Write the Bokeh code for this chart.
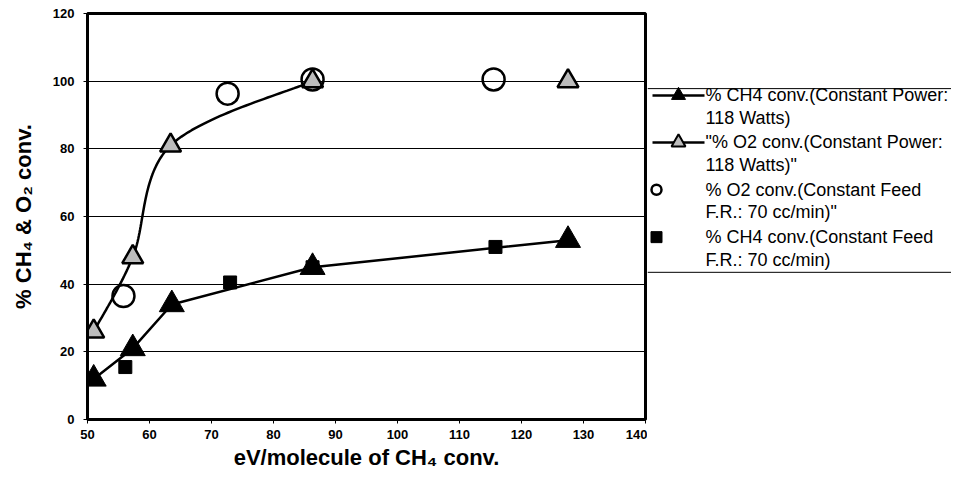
import numpy as np
from bokeh.plotting import figure
from bokeh.layouts import row
from bokeh.models import Range1d
from bokeh.core.properties import value
from bokeh.embed import file_html
from bokeh.resources import INLINE

# ---- data ----
x_ch4_power = [51.0, 57.3, 63.6, 86.3, 127.5]
y_ch4_power = [12.0, 21.0, 34.0, 45.0, 53.0]
x_o2_power = [51.0, 57.3, 63.4, 86.3, 127.5]
y_o2_power = [26.0, 48.0, 81.0, 100.0, 100.0]
x_o2_feed = [55.8, 72.6, 86.3, 115.5]
y_o2_feed = [36.5, 96.3, 100.5, 100.5]
x_ch4_feed = [56.1, 73.0, 86.3, 115.8]
y_ch4_feed = [15.5, 40.5, 45.0, 51.0]
x_ticks = [50, 60, 70, 80, 90, 100, 110, 120, 130, 140]
y_ticks = [0, 20, 40, 60, 80, 100, 120]

legend_lines = [
    ["% CH4 conv.(Constant Power:", "118 Watts)"],
    ["\"% O2 conv.(Constant Power:", "118 Watts)\""],
    ["% O2 conv.(Constant Feed", "F.R.:  70 cc/min)\""],
    ["% CH4 conv.(Constant Feed", "F.R.:  70 cc/min)"],
]

FONT = "Liberation Sans"
H = 472


def smooth(xs, ys, n=40):
    """Excel-like smoothed line (Catmull-Rom Bezier) through the given points."""
    P = np.column_stack([xs, ys])
    out = []
    for i in range(len(P) - 1):
        p0 = P[i - 1] if i > 0 else P[i]
        p1, p2 = P[i], P[i + 1]
        p3 = P[i + 2] if i + 2 < len(P) else P[i + 1]
        c1 = p1 + (p2 - p0) / 6.0
        c2 = p2 - (p3 - p1) / 6.0
        t = np.linspace(0, 1, n)[:, None]
        seg = ((1 - t) ** 3) * p1 + 3 * ((1 - t) ** 2) * t * c1 + 3 * (1 - t) * t ** 2 * c2 + t ** 3 * p2
        out.append(seg if i == 0 else seg[1:])
    arr = np.vstack(out)
    return arr[:, 0], arr[:, 1]


# ---------------- main chart ----------------
y_range = Range1d(0, 120)
p = figure(width=647, height=H, x_range=Range1d(50, 140), y_range=y_range,
           output_backend="svg", toolbar_location=None,
           min_border_left=87, min_border_top=13, min_border_bottom=40, min_border_right=2)
p.outline_line_color = "black"
p.outline_line_width = 3
p.background_fill_color = "white"
p.border_fill_color = "white"

p.xaxis.ticker = x_ticks
p.yaxis.ticker = y_ticks
for ax in (p.xaxis[0], p.yaxis[0]):
    ax.axis_line_color = "black"
    ax.axis_line_width = 3
    ax.major_tick_out = 4
    ax.major_tick_in = 0
    ax.minor_tick_line_color = None
    ax.major_tick_line_color = "black"
    ax.major_label_text_font = FONT
    ax.major_label_text_font_style = "bold"
    ax.major_label_text_font_size = "13px"
    ax.major_label_text_color = "black"
    ax.axis_label_text_font = FONT
    ax.axis_label_text_font_style = "bold"
    ax.axis_label_text_color = "black"

p.xaxis.axis_label = "eV/molecule of CH\u2084 conv."
p.xaxis.axis_label_text_font_size = "22px"
p.xaxis.axis_label_standoff = 3
p.xaxis.major_label_standoff = 6
p.yaxis.axis_label = "% CH\u2084 & O\u2082 conv."
p.yaxis.axis_label_text_font_size = "22px"
p.yaxis.axis_label_standoff = 14
p.yaxis.major_label_standoff = 9

p.xgrid.grid_line_color = None
p.ygrid.grid_line_color = "black"
p.ygrid.grid_line_width = 1

# O2 conversion, constant power: smoothed curve through the first four points
sx, sy = smooth(x_o2_power[:4], y_o2_power[:4])
p.line(sx, sy, line_color="black", line_width=2.5)
p.scatter(x_o2_power, y_o2_power, marker="triangle", size=21,
          fill_color="#bcbcbc", line_color="black", line_width=2.5)

# CH4 conversion, constant power
p.line(x_ch4_power, y_ch4_power, line_color="black", line_width=2.5)
p.scatter(x_ch4_feed, y_ch4_feed, marker="square", size=13,
          fill_color="black", line_color="black")
p.scatter(x_ch4_power, y_ch4_power, marker="triangle", size=25,
          fill_color="black", line_color="black")

# O2 conversion, constant feed
p.scatter(x_o2_feed, y_o2_feed, marker="circle", size=22,
          fill_color=None, line_color="black", line_width=2.5)

# ---------------- legend panel (shares the chart's vertical scale) ----------------
LW = 951 - 647
q = figure(width=LW, height=H, x_range=Range1d(0, LW), y_range=y_range,
           output_backend="svg", toolbar_location=None,
           min_border_left=0, min_border_right=0,
           min_border_top=13, min_border_bottom=40)
q.axis.visible = False
q.grid.visible = False
q.outline_line_color = None
q.background_fill_color = "white"
q.border_fill_color = "white"

# legend box edges (in the chart's y units)
box_top, box_bottom = 97.8, 43.5
q.segment(x0=[0, 0], y0=[box_top, box_bottom], x1=[LW, LW], y1=[box_top, box_bottom],
          line_color="black", line_width=1)

row_y = [95.8, 81.9, 67.9, 53.9]
line_gap = 6.7
text_x = 58
xs, ys, txt = [], [], []
for yy, lines in zip(row_y, legend_lines):
    for k, t in enumerate(lines):
        xs.append(text_x)
        ys.append(yy - k * line_gap)
        txt.append(t)
q.text(x=xs, y=ys, text=txt, text_font=value(FONT), text_font_size="18px",
       text_baseline="middle", text_align="left", text_color="black")

# legend glyphs
q.segment(x0=[5, 5], y0=[row_y[0], row_y[1]], x1=[57, 57], y1=[row_y[0], row_y[1]],
          line_color="black", line_width=2.5)
q.scatter([31], [row_y[0]], marker="triangle", size=14, fill_color="black", line_color="black")
q.scatter([31], [row_y[1]], marker="triangle", size=14, fill_color="#bcbcbc",
          line_color="black", line_width=2)
q.scatter([9], [row_y[2]], marker="circle", size=10, fill_color=None,
          line_color="black", line_width=2.5)
q.scatter([9], [row_y[3]], marker="square", size=11, fill_color="black", line_color="black")

layout = row(p, q, spacing=0)
open("out.html", "w").write(file_html(layout, INLINE))
